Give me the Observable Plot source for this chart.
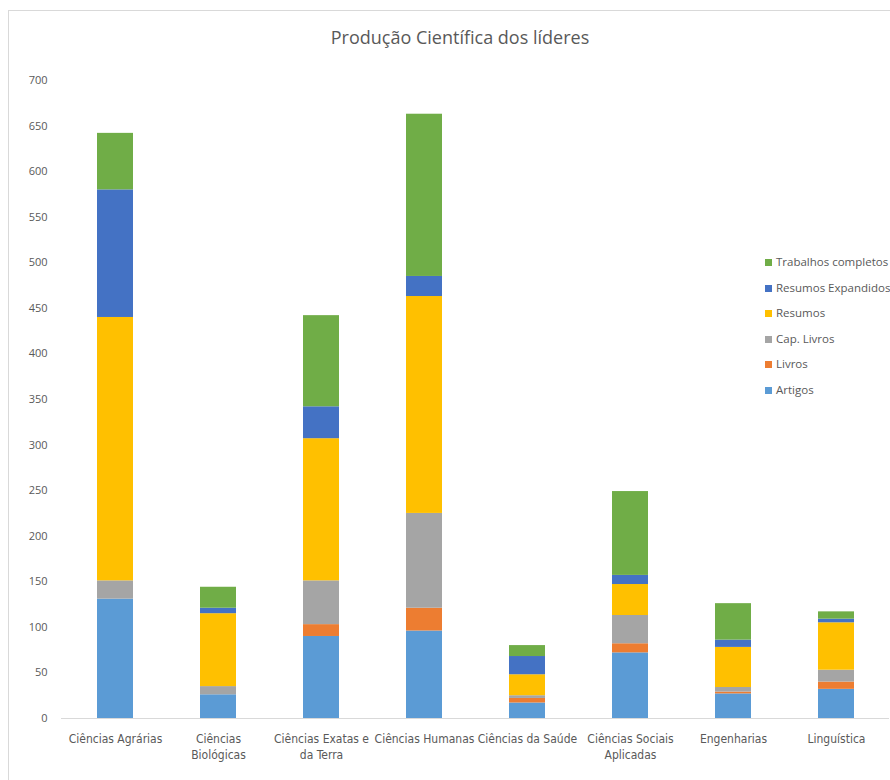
<!DOCTYPE html>
<html>
<head>
<meta charset="utf-8">
<script src="https://cdn.jsdelivr.net/npm/d3@7"></script>
<script src="https://cdn.jsdelivr.net/npm/@observablehq/plot@0.6"></script>
<style>
  html, body { margin: 0; padding: 0; background: #fff; }
  #wrap { position: relative; width: 890px; height: 780px; overflow: hidden; background: #fff; }
  #frame { position: absolute; left: 8px; top: 10px; width: 900px; height: 800px; border-left: 1px solid #d9d9d9; border-top: 1px solid #d9d9d9; }
  #title { position: absolute; left: 0; top: 25px; width: 920px; text-align: center; font-family: "Open Sans", sans-serif; font-size: 18px; color: #595959; }
  #chart { position: absolute; left: 0; top: 0; }
  #legend { position: absolute; left: 765px; top: 254px; font-family: "Open Sans", sans-serif; font-size: 11.5px; color: #595959; white-space: nowrap; }
  .li { height: 25.6px; display: flex; align-items: flex-start; }
  .sw { width: 7px; height: 7px; margin-right: 4px; margin-top: 5px; flex: none; }
</style>
</head>
<body>
<div id="wrap">
  <div id="frame"></div>
  <div id="chart"></div>
  <div id="title">Produção Científica dos líderes</div>
  <div id="legend"></div>
</div>
<script>
const categories = ["Ciências Agrárias", "Ciências Biológicas", "Ciências Exatas e da Terra", "Ciências Humanas", "Ciências da Saúde", "Ciências Sociais Aplicadas", "Engenharias", "Linguística"];
const tickLabels = ["Ciências Agrárias", "Ciências\nBiológicas", "Ciências Exatas e\nda Terra", "Ciências Humanas", "Ciências da Saúde", "Ciências Sociais\nAplicadas", "Engenharias", "Linguística"];
const seriesNames = ["Artigos", "Livros", "Cap. Livros", "Resumos", "Resumos Expandidos", "Trabalhos completos"];
const seriesColors = ["#5B9BD5", "#ED7D31", "#A5A5A5", "#FFC000", "#4472C4", "#70AD47"];

const artigos            = [131, 26, 90, 96, 17, 72, 27, 32];
const livros             = [0, 0, 13, 25, 5, 10, 2, 8];
const capLivros          = [20, 9, 48, 104, 3, 31, 5, 13];
const resumos            = [289, 80, 156, 238, 23, 34, 44, 52];
const resumosExpandidos  = [140, 6, 35, 22, 20, 10, 8, 4];
const trabalhosCompletos = [62, 23, 100, 178, 12, 92, 40, 8];

const yTicks = [0, 50, 100, 150, 200, 250, 300, 350, 400, 450, 500, 550, 600, 650, 700];

const seriesValues = [artigos, livros, capLivros, resumos, resumosExpandidos, trabalhosCompletos];
const data = [];
seriesNames.forEach((s, si) => {
  categories.forEach((c, ci) => {
    data.push({category: c, series: s, value: seriesValues[si][ci]});
  });
});

const labelMap = new Map(categories.map((c, i) => [c, tickLabels[i]]));

const chart = Plot.plot({
  width: 890,
  height: 780,
  marginTop: 80,
  marginBottom: 62,
  marginLeft: 61,
  marginRight: 1,
  style: {background: "transparent", color: "#595959"},
  x: {type: "band", domain: categories, paddingInner: 0.652, paddingOuter: 0.326, label: null},
  y: {domain: [0, 700], label: null},
  color: {domain: seriesNames, range: seriesColors},
  marks: [
    Plot.barY(data, {x: "category", y: "value", fill: "series", order: seriesNames}),
    Plot.ruleY([0], {stroke: "#d9d9d9", strokeWidth: 1}),
    Plot.axisY({ticks: yTicks, tickSize: 0, tickPadding: 14, label: null, fontSize: 11, fontFamily: "Open Sans", fill: "#595959"}),
    Plot.axisX({tickSize: 0, tickPadding: 13, label: null, tickFormat: d => labelMap.get(d), fontSize: 12, fontFamily: "Liberation Sans Narrow, DejaVu Sans Condensed, sans-serif", lineHeight: 1.35, fill: "#595959"})
  ]
});
document.getElementById("chart").appendChild(chart);

const legend = document.getElementById("legend");
for (let i = seriesNames.length - 1; i >= 0; i--) {
  const row = document.createElement("div");
  row.className = "li";
  const sw = document.createElement("span");
  sw.className = "sw";
  sw.style.background = seriesColors[i];
  const tx = document.createElement("span");
  tx.textContent = seriesNames[i];
  row.appendChild(sw);
  row.appendChild(tx);
  legend.appendChild(row);
}
</script>
</body>
</html>
